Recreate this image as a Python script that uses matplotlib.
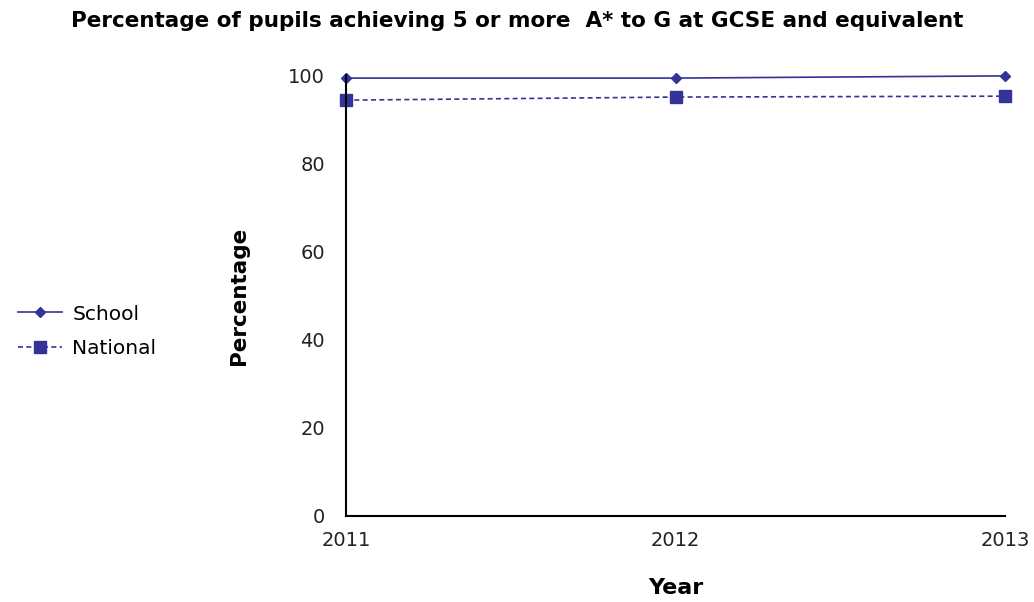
import matplotlib.pyplot as plt
from matplotlib.lines import Line2D

years = [2011, 2012, 2013]
school = [99.3, 99.3, 99.8]
national = [94.3, 95.0, 95.2]

col = "#333399"

fig = plt.figure(figsize=(10.34, 6.02), dpi=100)
ax = fig.add_axes([0.3346, 0.1429, 0.972 - 0.3346, 0.8754 - 0.1429])

ax.plot(years, school, color=col, lw=1.2, marker="D", ms=5.5, clip_on=False, label="School")
ax.plot(years, national, color=col, lw=1.2, ls=(0, (3, 2)), marker="s", ms=9, clip_on=False,
        label="National")

ax.set_xlim(2011, 2013)
ax.set_ylim(0, 100)
ax.set_xticks(years)
ax.set_yticks([0, 20, 40, 60, 80, 100])
ax.tick_params(length=0, labelsize=14, colors="#222222")
ax.tick_params(axis="y", pad=15)
ax.tick_params(axis="x", pad=11)
for s in ["top", "right"]:
    ax.spines[s].set_visible(False)
for s in ["left", "bottom"]:
    ax.spines[s].set_linewidth(1.5)
    ax.spines[s].set_color("black")

ax.set_ylabel("Percentage", fontsize=15.5, fontweight="bold", labelpad=28)
ax.set_xlabel("Year", fontsize=16, fontweight="bold", labelpad=20)
fig.text(0.5, 0.965, "Percentage of pupils achieving 5 or more  A* to G at GCSE and equivalent",
         ha="center", va="center", fontsize=15.5, fontweight="bold")

handles = [Line2D([], [], color=col, lw=1.2, marker="D", ms=5.5),
           Line2D([], [], color=col, lw=1.2, ls=(0, (3, 2)), marker="s", ms=8)]
fig.legend(handles, ["School", "National"], loc="center left", bbox_to_anchor=(0.0, 0.45),
           frameon=False, fontsize=14.5, handlelength=2.2, handletextpad=0.5, labelspacing=0.75)

fig.savefig("out.png", dpi=100)
